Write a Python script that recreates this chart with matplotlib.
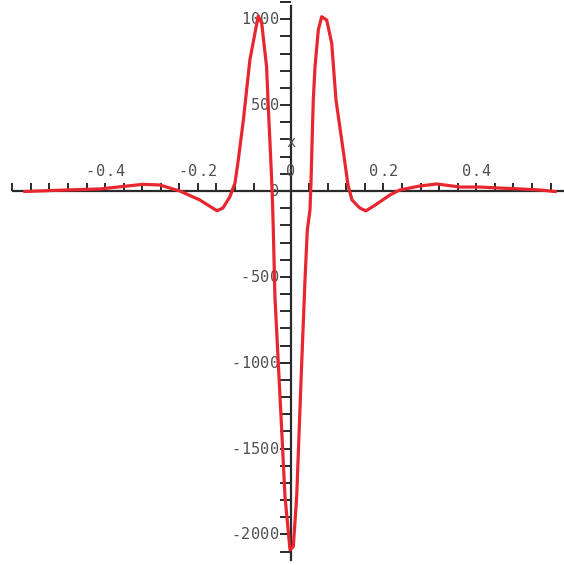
import matplotlib
matplotlib.use("Agg")
import matplotlib.pyplot as plt
from matplotlib.ticker import MultipleLocator, FixedLocator
from matplotlib.transforms import offset_copy

# sampled curve (polyline)
x_vals = [-0.573, -0.483, -0.411, -0.318, -0.282, -0.239, -0.196, -0.159, -0.146,
          -0.131, -0.120, -0.113, -0.102, -0.088, -0.073, -0.070, -0.0625, -0.052,
          -0.048, -0.0446, -0.041, -0.039, -0.0375, -0.034, -0.0267, -0.0194,
          -0.0123, -0.0015, 0.0056, 0.0129, 0.0237, 0.0308, 0.0358, 0.0416, 0.0437,
          0.0466, 0.0487, 0.0524, 0.0595, 0.0668, 0.0776, 0.0884, 0.0976, 0.113,
          0.1235, 0.132, 0.149, 0.162, 0.182, 0.214, 0.235, 0.278, 0.315, 0.365,
          0.408, 0.451, 0.494, 0.537, 0.570]
y_vals = [-3, 6, 12, 39, 35, 0, -52, -115, -99,
          -33, 47, 180, 413, 763, 977, 1019, 977, 724,
          472, 278, 64, -82, -227, -615, -1003, -1392,
          -1780, -2090, -2071, -1780, -1003, -518, -227, -110, 47,
          336, 530, 724, 938, 1015, 996, 860, 530, 239,
          35, -52, -99, -116, -82, -23, 6, 29, 41, 23,
          23, 17, 12, 6, -3]

x_label_ticks = [-0.4, -0.2, 0.0, 0.2, 0.4]
x_label_text = ["-0.4", "-0.2", "0", "0.2", "0.4"]
y_major_ticks = [-2000, -1500, -1000, -500, 0, 500, 1000]
y_tick_text = ["-2000", "-1500", "-1000", "-500", "0", "500", "1000"]

W, H = 564, 565
fig = plt.figure(figsize=(W / 100, H / 100), dpi=100)
ax = fig.add_axes([0, 0, 1, 1])
ax.patch.set_alpha(0)

# pixel geometry of the plotting frame
x0_px, xscale = 290.7, 464.0      # pixel of x=0, pixels per unit
y0_px, yscale = 191.0, 0.1717     # pixel row of y=0, pixels per unit
ax.set_xlim((0 - x0_px) / xscale, (W - x0_px) / xscale)
ax.set_ylim((y0_px - H) / yscale, (y0_px - 0) / yscale)

axis_col = "#2a2a2a"
text_col = "#505050"
mono = "DejaVu Sans Mono"
fsize = 11
advance = 9.8   # character pitch in pixels (wide-spaced monospace)


def spaced_text(x, y, s, dx=0.0, dy=0.0, align="center"):
    """Draw a string one glyph at a time with a fixed pitch."""
    n = len(s)
    for i, ch in enumerate(s):
        if align == "center":
            off = (i - (n - 1) / 2) * advance
        else:  # right aligned
            off = -(n - 1 - i) * advance - advance / 2
        tr = offset_copy(ax.transData, fig=fig, x=dx + off, y=dy, units="dots")
        ax.text(x, y, ch, transform=tr, ha="center", va="center",
                family=mono, fontsize=fsize, color=text_col)


for s in ["top", "right"]:
    ax.spines[s].set_visible(False)
for s in ["left", "bottom"]:
    ax.spines[s].set_position(("data", 0))
    ax.spines[s].set_color(axis_col)
    ax.spines[s].set_linewidth(1.6)
ax.spines["bottom"].set_bounds(-0.598, (W - x0_px) / xscale)
ax.spines["left"].set_bounds(-2149, 1077)

ax.set_xticks([t for t in [i * 0.04 for i in range(-15, 15)] if abs(t) > 1e-9])
ax.tick_params(axis="x", direction="in", length=6, width=1.4, color=axis_col,
               labelbottom=False)
ax.yaxis.set_major_locator(FixedLocator(y_major_ticks))
ax.yaxis.set_minor_locator(MultipleLocator(100))
ax.tick_params(axis="y", which="both", direction="out", length=8, width=1.4,
               color=axis_col, labelleft=False)

# y tick labels to the left of the ticks
for t, s in zip(y_major_ticks, y_tick_text):
    spaced_text(0, t, s, dx=-11, dy=-0.5, align="right")
# x tick labels sit above the axis
for t, s in zip(x_label_ticks, x_label_text):
    spaced_text(t, 0, s, dy=20)
spaced_text(0, 280, "x")

ax.plot(x_vals, y_vals, color="#e8262e", linewidth=2.3, solid_joinstyle="round",
        zorder=3, clip_on=False)

fig.savefig("out.png", dpi=100, facecolor="white")
